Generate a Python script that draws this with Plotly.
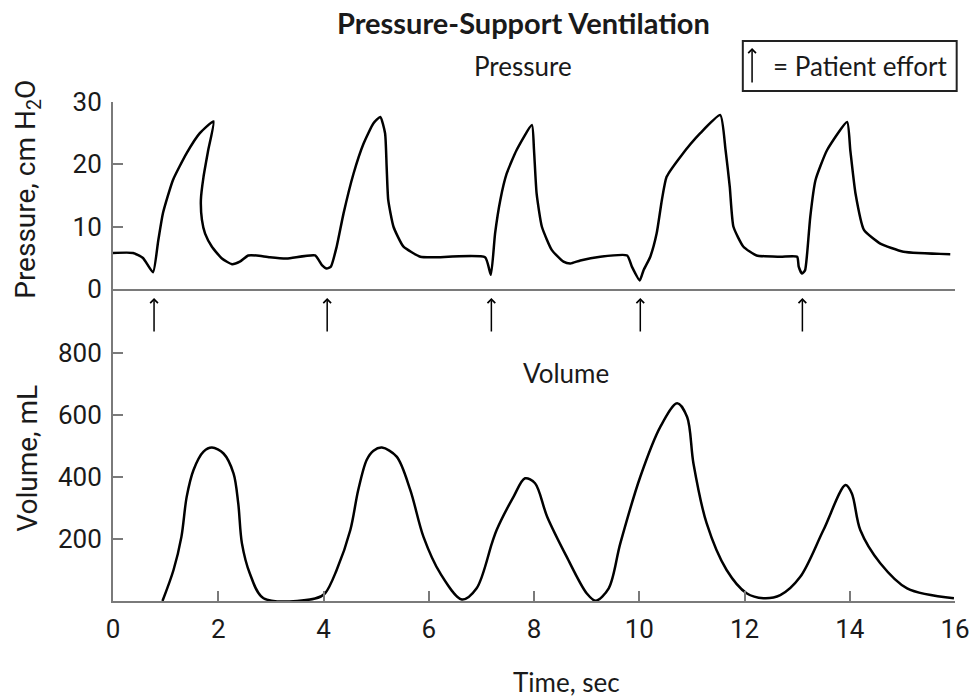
import plotly.graph_objects as go

# ---- data ----
pressure_t = [0, 0.38, 0.57, 0.76, 0.86, 0.95, 1.14, 1.40, 1.65, 1.91, 1.81, 1.72, 1.67, 1.69, 1.75, 1.88,
              2.07, 2.26, 2.41, 2.57, 2.73, 2.98, 3.30, 3.84, 3.97, 4.06, 4.14, 4.25, 4.38, 4.57, 4.76,
              4.95, 5.08, 5.17, 5.20, 5.23, 5.33, 5.52, 5.84, 6.09, 7.07, 7.18, 7.26, 7.36, 7.48, 7.67,
              7.96, 8.00, 8.05, 8.15, 8.34, 8.56, 8.69, 8.88, 9.26, 9.77, 9.86, 10.01, 10.08, 10.21,
              10.33, 10.43, 10.52, 10.78, 11.16, 11.54, 11.64, 11.72, 11.79, 11.98, 12.23, 12.68, 13.0,
              13.03, 13.09, 13.15, 13.19, 13.25, 13.35, 13.57, 13.95, 14.01, 14.11, 14.27, 14.58, 15.02,
              15.91]
pressure_v = [5.8, 5.8, 5.0, 2.7, 7.8, 12.2, 17.5, 21.8, 25.0, 26.9, 22.3, 18.0, 14.3, 11.1, 8.9, 6.8,
              4.9, 4.0, 4.4, 5.4, 5.4, 5.1, 4.9, 5.4, 3.85, 3.3, 3.6, 6.8, 12.1, 18.5, 23.3,
              26.6, 27.6, 25.0, 19.6, 14.3, 10.0, 6.8, 5.2, 5.1, 5.1, 2.3, 8.9, 14.3, 18.5, 22.3,
              26.3, 22.3, 15.3, 10.0, 6.25, 4.4, 4.1, 4.6, 5.2, 5.4, 3.6, 1.4, 3.0, 5.2,
              8.9, 14.3, 18.0, 21.2, 25.0, 27.9, 22.3, 16.4, 10.0, 6.8, 5.4, 5.2, 5.2,
              3.6, 2.5, 3.0, 5.7, 11.6, 17.5, 22.3, 26.8, 22.3, 15.3, 9.5, 7.3, 6.0,
              5.6]

volume_t = [0.94, 1.15, 1.30, 1.40, 1.53, 1.72, 1.88, 2.10, 2.29, 2.38, 2.45, 2.60, 2.86, 3.84, 4.03,
            4.25, 4.51, 4.66, 4.82, 4.95, 5.11, 5.39, 5.65, 5.90, 6.22, 6.63, 6.91, 7.20, 7.29, 7.61,
            7.83, 8.02, 8.25, 8.62, 9.0, 9.17, 9.42, 9.64, 10.02, 10.40, 10.72, 10.91, 11.03, 11.28,
            11.66, 12.04, 12.36, 12.68, 13.06, 13.5, 13.92, 14.04, 14.2, 14.58, 15.09, 15.98]
volume_v = [0, 100, 207, 336, 423, 482, 495, 476, 412, 315, 186, 89, 9, 8, 25,
            100, 229, 358, 455, 485, 495, 466, 358, 207, 89, 5, 41, 186, 229, 336,
            396, 380, 272, 143, 25, 1, 41, 186, 401, 562, 638, 594, 444, 251,
            100, 25, 9, 19, 78, 229, 374, 347, 229, 122, 41, 9]

effort_t = [0.78, 4.07, 7.19, 10.02, 13.1]

x_ticks = [0, 2, 4, 6, 8, 10, 12, 14, 16]
pressure_ticks = [0, 10, 20, 30]
volume_ticks = [200, 400, 600, 800]

COND = "Roboto, Liberation Sans, sans-serif"
HUM = "Lato, Open Sans, sans-serif"
AX = "#7a7a7a"
TXT = "#1a1a1a"

fig = go.Figure()
fig.add_trace(go.Scatter(x=pressure_t, y=pressure_v, xaxis="x2", yaxis="y2", mode="lines",
                         line=dict(color="black", width=2.5, shape="spline", smoothing=0.5),
                         showlegend=False, hoverinfo="skip"))
fig.add_trace(go.Scatter(x=volume_t, y=volume_v, xaxis="x", yaxis="y", mode="lines",
                         line=dict(color="black", width=2.5, shape="spline", smoothing=0.9),
                         showlegend=False, hoverinfo="skip"))

vol_top = 800 * 312 / 248
tickfont = dict(family=COND, size=26, color=TXT)

fig.update_layout(
    width=972, height=699,
    margin=dict(l=113, r=17, t=102, b=98),
    paper_bgcolor="white", plot_bgcolor="white",
    xaxis=dict(domain=[0, 1], range=[0, 16], anchor="y", tickvals=x_ticks,
               ticks="inside", ticklen=10, tickcolor=AX, tickwidth=1.5, ticklabelstandoff=4,
               showline=True, linecolor=AX, linewidth=2, showgrid=False, zeroline=False,
               tickfont=tickfont, automargin=False),
    xaxis2=dict(domain=[0, 1], range=[0, 16], anchor="y2", matches="x",
                showticklabels=False, ticks="", showline=True, linecolor=AX, linewidth=2,
                showgrid=False, zeroline=False),
    yaxis=dict(domain=[0, 0.625], range=[0, vol_top], tickvals=volume_ticks,
               ticks="inside", ticklen=10, tickcolor=AX, tickwidth=1.5, ticklabelstandoff=4,
               showline=True, linecolor=AX, linewidth=2, showgrid=False, zeroline=False,
               tickfont=tickfont, automargin=False),
    yaxis2=dict(domain=[0.625, 1], range=[0, 30], tickvals=pressure_ticks,
                ticks="inside", ticklen=10, tickcolor=AX, tickwidth=1.5, ticklabelstandoff=4,
                showline=True, linecolor=AX, linewidth=2, showgrid=False, zeroline=False,
                tickfont=tickfont, automargin=False),
)

def label(text, x, y, size, family=HUM, angle=0):
    return dict(text=text, x=x, y=y, xref="paper", yref="paper", xanchor="center",
                yanchor="middle", textangle=angle, showarrow=False,
                font=dict(family=family, size=size, color=TXT))

annotations = [
    label("<b>Pressure-Support Ventilation</b>", 0.487, 1.160, 29),
    label("Pressure", 0.487, 1.072, 26),
    label("Volume", 0.538, 0.457, 26),
    label("Time, sec", 0.539, -0.162, 26),
    label("Pressure, cm H<sub>2</sub>O", -0.101, 0.826, 28, COND, -90),
    label("Volume, mL", -0.101, 0.287, 28, COND, -90),
    label("= Patient effort", 0.887, 1.072, 26),
]
# legend arrow
annotations.append(dict(x=0.759, y=1.108, xref="paper", yref="paper", ax=0, ay=36,
                        showarrow=True, arrowhead=4, arrowsize=1, arrowwidth=1.5,
                        arrowcolor="black", text=""))
for t in effort_t:
    annotations.append(dict(x=t, y=0.607, xref="x", yref="paper", ax=0, ay=35,
                            showarrow=True, arrowhead=4, arrowsize=1, arrowwidth=1.5,
                            arrowcolor="black", text=""))
fig.update_layout(annotations=annotations)

fig.add_shape(type="rect", xref="paper", yref="paper", x0=0.748, x1=1.002, y0=1.022, y1=1.122,
              line=dict(color="#222", width=2), fillcolor="rgba(0,0,0,0)")

fig.write_html("out.html", config={"displayModeBar": False},
               post_script="document.body.style.margin='0';")
